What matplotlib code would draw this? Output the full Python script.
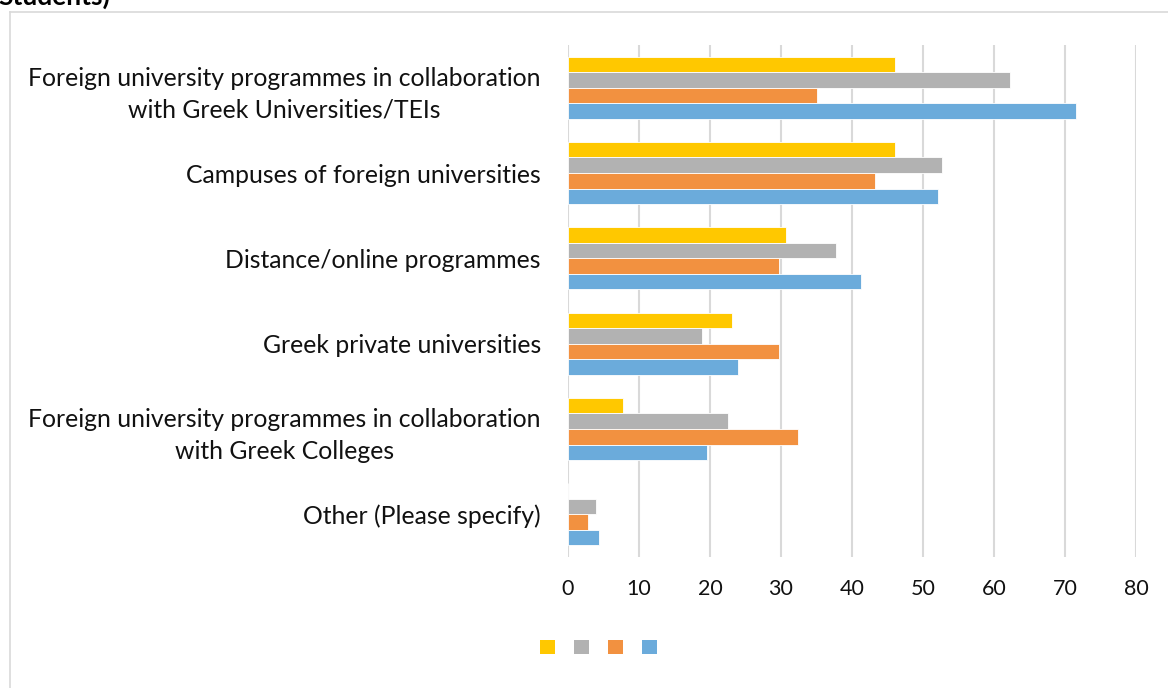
import matplotlib
matplotlib.use("Agg")
import matplotlib.pyplot as plt
from matplotlib.patches import Patch
from matplotlib.lines import Line2D
import numpy as np

# ---------------- data ----------------
categories = [
    "Foreign university programmes in collaboration\nwith Greek Universities/TEIs",
    "Campuses of foreign universities",
    "Distance/online programmes",
    "Greek private universities",
    "Foreign university programmes in collaboration\nwith Greek Colleges",
    "Other (Please specify)",
]
series_yellow = [46.1, 46.1, 30.7, 23.1, 7.7, 0.0]
series_gray = [62.2, 52.7, 37.8, 18.9, 22.6, 3.9]
series_orange = [35.1, 43.2, 29.7, 29.7, 32.4, 2.8]
series_blue = [71.6, 52.1, 41.3, 23.9, 19.6, 4.4]
series_names = ["", "", "", ""]          # legend in the reference carries no text
x_ticks = [0, 10, 20, 30, 40, 50, 60, 70, 80]
title_text = "Students)"

# ---------------- style ----------------
W, H = 1168, 688
colors = ["#FFC800", "#B2B2B2", "#F29140", "#6BABDB"]
FONT = "Lato"
plt.rcParams["font.family"] = [FONT, "DejaVu Sans"]

fig = plt.figure(figsize=(W / 100, H / 100), dpi=100)
fig.patch.set_facecolor("white")

# axes placement in pixels
ax_left, ax_right, ax_top, ax_bottom = 568, 1136, 45, 557
ax = fig.add_axes([ax_left / W, 1 - ax_bottom / H,
                   (ax_right - ax_left) / W, (ax_bottom - ax_top) / H])

series = [series_yellow, series_gray, series_orange, series_blue]
n = len(series)
y = np.arange(len(categories))
bar_h = 0.182
for i, (vals, c) in enumerate(zip(series, colors)):
    offs = (i - (n - 1) / 2) * bar_h
    ax.barh(y + offs, vals, height=bar_h, color=c, edgecolor="white",
            linewidth=0.6, zorder=3, label=series_names[i])

ax.set_xlim(x_ticks[0], x_ticks[-1])
ax.set_ylim(len(categories) - 0.5, -0.5)
ax.set_xticks(x_ticks)
ax.set_xticklabels([str(t) for t in x_ticks])
ax.set_yticks(y)
ax.set_yticklabels(categories, multialignment="center", linespacing=1.45)
ax.xaxis.grid(True, color="#D9D9D9", linewidth=1.5, zorder=0)
ax.yaxis.grid(False)
for s in ax.spines.values():
    s.set_visible(False)
ax.tick_params(axis="both", length=0)
ax.tick_params(axis="y", pad=19.5, labelsize=17.8, labelcolor="#111111")
ax.tick_params(axis="x", pad=15.5, labelsize=15.5, labelcolor="#111111")

# legend: coloured squares only
handles = [Patch(facecolor=c, edgecolor="none") for c in colors]
leg = fig.legend(handles, series_names, loc="center",
                 bbox_to_anchor=(598.5 / W, 1 - 647.5 / H),
                 ncol=4, frameon=False, fontsize=10.8,
                 handlelength=1.0, handleheight=1.0, handletextpad=0.0,
                 columnspacing=1.27, borderpad=0, borderaxespad=0)

# outer chart frame (extends past right/bottom edge of the image)
frame_c = "#D9D9D9"
fig.add_artist(Line2D([9.5 / W, 1.0], [1 - 12 / H, 1 - 12 / H],
                      transform=fig.transFigure, color=frame_c, lw=1.2))
fig.add_artist(Line2D([9.5 / W, 9.5 / W], [0.0, 1 - 12 / H],
                      transform=fig.transFigure, color=frame_c, lw=1.2))

# cut-off title at the very top (as in the reference)
fig.text(-2 / W, 1 - 5 / H, title_text, fontsize=19, fontweight="bold",
         ha="left", va="baseline", color="black")

fig.savefig("out.png", dpi=100, facecolor="white")
